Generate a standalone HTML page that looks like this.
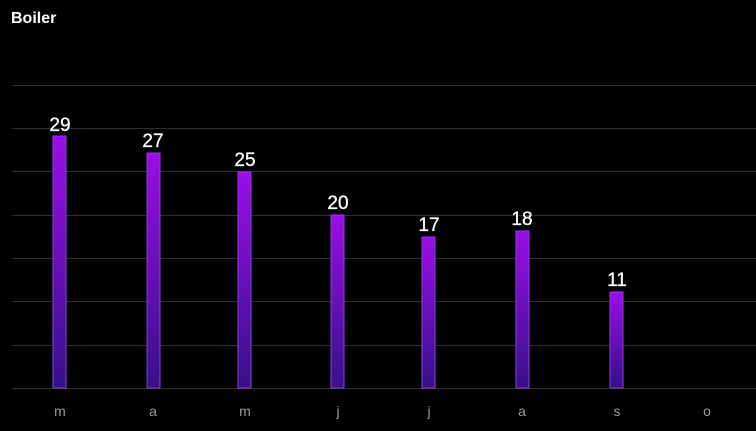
<!DOCTYPE html>
<html><head><meta charset="utf-8"><style>
html,body{margin:0;background:#000;width:756px;height:431px;overflow:hidden;font-family:"Liberation Sans",sans-serif}
svg{display:block}
</style></head><body>
<svg width="756" height="431" xmlns="http://www.w3.org/2000/svg">
<defs><linearGradient id="g" x1="0" y1="0" x2="0" y2="1"><stop offset="0" stop-color="#9a0ee6"/><stop offset="1" stop-color="#36108a"/></linearGradient></defs>
<rect width="756" height="431" fill="#000"/>
<text x="11" y="23" fill="#fff" font-size="16" font-weight="bold">Boiler</text>
<g stroke="#2e2e2e" stroke-width="1">
<line x1="12" x2="756" y1="85.5" y2="85.5"/><line x1="12" x2="756" y1="128.5" y2="128.5"/>
<line x1="12" x2="756" y1="171.5" y2="171.5"/><line x1="12" x2="756" y1="215.5" y2="215.5"/>
<line x1="12" x2="756" y1="258.5" y2="258.5"/><line x1="12" x2="756" y1="301.5" y2="301.5"/>
<line x1="12" x2="756" y1="345.5" y2="345.5"/><line x1="12" x2="756" y1="388.5" y2="388.5"/>
</g>
<g fill="url(#g)" stroke="#8a3ee0" stroke-width="1">
<rect x="53" y="136" width="13" height="252"/>
<rect x="147" y="153" width="13" height="235"/>
<rect x="238" y="172" width="13" height="216"/>
<rect x="331" y="215" width="13" height="173"/>
<rect x="422" y="237" width="13" height="151"/>
<rect x="516" y="231" width="13" height="157"/>
<rect x="610" y="292" width="13" height="96"/>
</g>
<g fill="#fff" font-size="19" text-anchor="middle" stroke="#fff" stroke-width="0.3">
<text x="60" y="131">29</text><text x="153" y="147">27</text><text x="245" y="166">25</text>
<text x="338" y="209">20</text><text x="429" y="231">17</text><text x="522" y="225">18</text><text x="617" y="286">11</text>
</g>
<g fill="#9a9a9a" font-size="14" text-anchor="middle">
<text x="60" y="416">m</text><text x="153" y="416">a</text><text x="245" y="416">m</text><text x="338" y="416">j</text>
<text x="429" y="416">j</text><text x="522" y="416">a</text><text x="617" y="416">s</text><text x="707" y="416">o</text>
</g>
</svg>
</body></html>
